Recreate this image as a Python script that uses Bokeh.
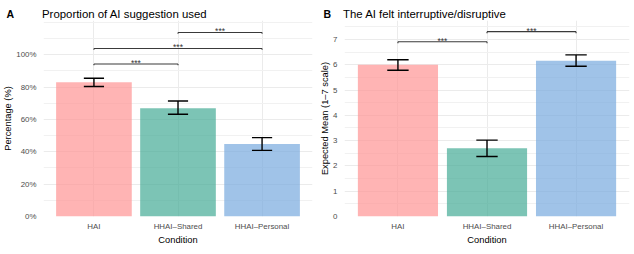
from bokeh.plotting import figure
from bokeh.models import Range1d, FixedTicker, NumeralTickFormatter, Label
from bokeh.layouts import row, column
from bokeh.embed import file_html
from bokeh.resources import INLINE

FONT = "Liberation Sans"

conditions = ["HAI", "HHAI–Shared", "HHAI–Personal"]
colors = ["#FF9494", "#45AB95", "#77A9DE"]

# Panel A: proportion of AI suggestion used
a_mean = [0.830, 0.670, 0.448]
a_lower = [0.804, 0.632, 0.409]
a_upper = [0.855, 0.714, 0.488]
a_pair_left = [1, 1, 2]
a_pair_right = [2, 3, 3]
a_bracket_y = [0.943, 1.039, 1.138]
a_sig = ["***", "***", "***"]
a_major = [0.0, 0.2, 0.4, 0.6, 0.8, 1.0]
a_minor = [0.1, 0.3, 0.5, 0.7, 0.9, 1.1, 1.2]

# Panel B: The AI felt interruptive/disruptive
b_mean = [6.00, 2.70, 6.16]
b_lower = [5.78, 2.37, 5.94]
b_upper = [6.20, 3.02, 6.39]
b_pair_left = [1, 2]
b_pair_right = [2, 3]
b_bracket_y = [6.91, 7.31]
b_sig = ["***", "***"]
b_major = [0, 1, 2, 3, 4, 5, 6, 7]
b_minor = [0.5, 1.5, 2.5, 3.5, 4.5, 5.5, 6.5, 7.5]

W = 317
HEAD_H = 20
H = 234
BB = 38


def panel(ylabel, mean, lower, upper, pl, pr, by, sig, major, minor,
          ymax, bl, br, tip, pct):
    xs = list(range(1, len(conditions) + 1))
    p = figure(width=W, height=H, x_range=Range1d(0.4, 3.6), y_range=Range1d(0, ymax),
               output_backend="svg", toolbar_location=None, title=None,
               min_border_left=bl, min_border_right=br, min_border_top=0, min_border_bottom=BB)
    p.outline_line_color = None
    p.background_fill_color = "white"
    p.border_fill_color = "white"

    p.xaxis.ticker = FixedTicker(ticks=xs)
    p.xaxis.major_label_overrides = {x: c for x, c in zip(xs, conditions)}
    p.xgrid.ticker = FixedTicker(ticks=xs)
    p.yaxis.ticker = FixedTicker(ticks=major, minor_ticks=minor)
    p.ygrid.ticker = FixedTicker(ticks=major, minor_ticks=minor)
    if pct:
        p.yaxis.formatter = NumeralTickFormatter(format="0%")
    p.xgrid.grid_line_color = "#EBEBEB"
    p.ygrid.grid_line_color = "#EBEBEB"
    p.xgrid.grid_line_width = 1
    p.ygrid.grid_line_width = 1
    p.ygrid.minor_grid_line_color = "#F1F1F1"
    p.ygrid.minor_grid_line_width = 1

    for ax in (p.xaxis, p.yaxis):
        ax.axis_line_color = None
        ax.major_tick_line_color = None
        ax.minor_tick_line_color = None
        ax.major_tick_out = 0
        ax.major_tick_in = 0
        ax.major_label_text_font = FONT
        ax.major_label_text_font_size = "7.9px"
        ax.major_label_text_color = "#4D4D4D"
        ax.axis_label_text_font = FONT
        ax.axis_label_text_font_size = "9.3px"
        ax.axis_label_text_font_style = "normal"
        ax.axis_label_text_color = "black"
    p.xaxis.major_label_standoff = 5
    p.xaxis.axis_label_standoff = 1
    p.yaxis.major_label_standoff = 3
    p.yaxis.axis_label_standoff = 0
    p.xaxis.axis_label = "Condition"
    p.yaxis.axis_label = ylabel

    p.vbar(x=xs, top=mean, width=0.9, fill_color=colors, fill_alpha=0.7, line_color=None)

    cap = 0.12
    p.segment(x0=xs, y0=lower, x1=xs, y1=upper, line_color="black", line_width=1.4)
    p.segment(x0=[x - cap for x in xs], y0=lower, x1=[x + cap for x in xs], y1=lower,
              line_color="black", line_width=1.4)
    p.segment(x0=[x - cap for x in xs], y0=upper, x1=[x + cap for x in xs], y1=upper,
              line_color="black", line_width=1.4)

    bc = "#3A3A3A"
    p.segment(x0=pl, y0=by, x1=pr, y1=by, line_color=bc, line_width=1.1)
    p.segment(x0=pl, y0=by, x1=pl, y1=[y - tip for y in by], line_color=bc, line_width=1.1)
    p.segment(x0=pr, y0=by, x1=pr, y1=[y - tip for y in by], line_color=bc, line_width=1.1)
    mids = [(a + b) / 2 for a, b in zip(pl, pr)]
    p.text(x=mids, y=by, text=sig, text_align="center", text_baseline="alphabetic",
           y_offset=-1, text_font_size="8.5px", text_color="#333333",
           text_font={"value": FONT})
    return p


# header strip carrying the panel tags and titles
head = figure(width=2 * W, height=HEAD_H, x_range=Range1d(0, 2 * W), y_range=Range1d(0, HEAD_H),
              output_backend="svg", toolbar_location=None, title=None,
              x_axis_type=None, y_axis_type=None,
              min_border_left=0, min_border_right=0, min_border_top=0, min_border_bottom=0)
head.outline_line_color = None
head.grid.visible = False
head_items = [("A", 6, True), ("Proportion of AI suggestion used", 41.5, False),
              ("B", W + 6, True), ("The AI felt interruptive/disruptive", W + 25.5, False)]
for txt, xpos, bold in head_items:
    head.add_layout(Label(x=xpos, y=HEAD_H - 13.5, x_units="screen", y_units="screen",
                          text=txt, text_font=FONT,
                          text_font_size="10.5px" if bold else "11.4px",
                          text_font_style="bold" if bold else "normal",
                          text_color="black", text_baseline="alphabetic"))

pa = panel("Percentage (%)",
           a_mean, a_lower, a_upper, a_pair_left, a_pair_right, a_bracket_y, a_sig,
           a_major, a_minor, 1.212, 41, 5, 0.008, True)
pb = panel("Expected Mean (1–7 scale)",
           b_mean, b_lower, b_upper, b_pair_left, b_pair_right, b_bracket_y, b_sig,
           b_major, b_minor, 7.75, 25, 5, 0.06, False)

layout = column(head, row(pa, pb, spacing=0), spacing=0)
open("out.html", "w").write(file_html(layout, INLINE))
